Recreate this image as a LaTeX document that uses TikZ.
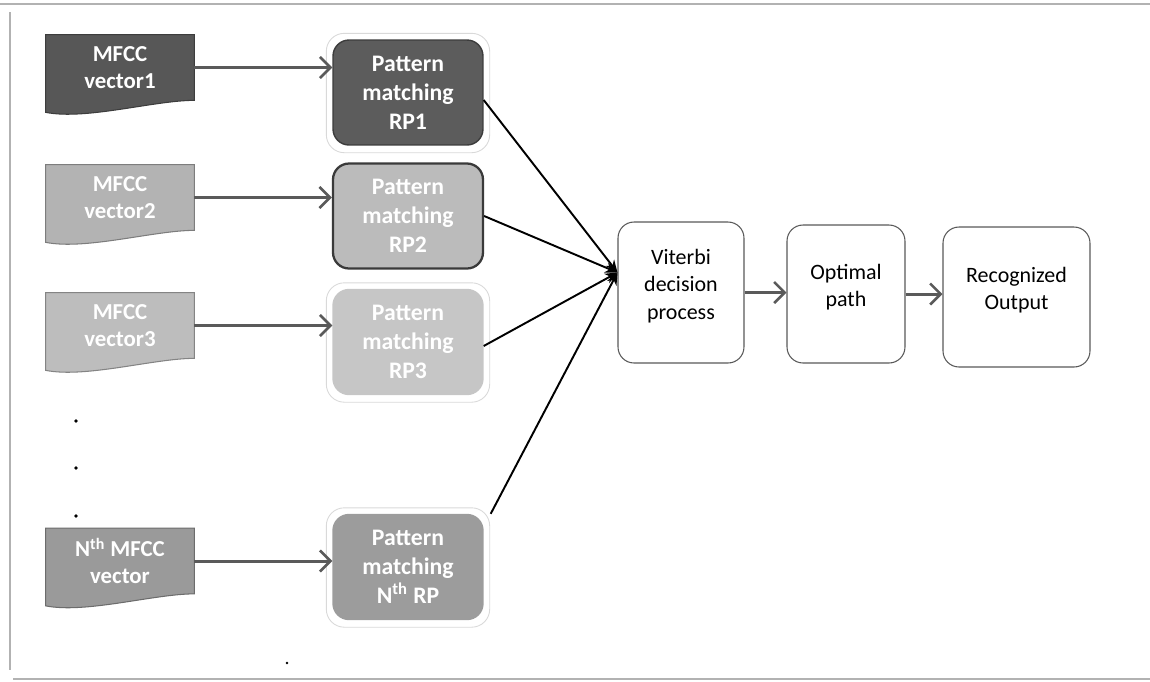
\documentclass[tikz,border=0pt]{standalone}
\usepackage{fontspec}
\setmainfont{Carlito}
\usetikzlibrary{arrows.meta,backgrounds}
\definecolor{mfone}{HTML}{575757}
\definecolor{pone}{HTML}{5C5C5C}
\definecolor{mftwo}{HTML}{B3B3B3}
\definecolor{ptwo}{HTML}{BBBBBB}
\definecolor{mfthree}{HTML}{BDBDBD}
\definecolor{pthree}{HTML}{C6C6C6}
\definecolor{mffour}{HTML}{9A9A9A}
\definecolor{pfour}{HTML}{9C9C9C}
\definecolor{edge}{HTML}{3A3A3A}
\definecolor{arrgray}{HTML}{5A5A5A}
\begin{document}
\begin{tikzpicture}[x=0.02cm,y=-0.02cm,
  docnode/.style={minimum width=2.96cm, minimum height=1.3cm, inner sep=0pt, align=center, text=white,
    font=\bfseries\fontsize{13}{15.5}\selectfont},
  docshape/.style={draw=#1!70!black, line width=0.6pt, fill=#1},
  pmbox/.style={rectangle, rounded corners=0.32cm, minimum width=3cm, minimum height=2.1cm, inner sep=0pt,
    align=center, text=white, fill=#1, draw=#1!65!black, line width=0.8pt,
    font=\bfseries\fontsize{13.5}{16.5}\selectfont},
  wbox/.style={rectangle, rounded corners=0.32cm, inner sep=0pt, align=center, fill=white,
    draw=gray!70!black, line width=0.6pt, font=\fontsize{12.5}{15.5}\selectfont},
  harrow/.style={draw=arrgray, line width=1.7pt, -{Straight Barb[length=6pt,width=12pt,line width=1.5pt]}},
  conv/.style={draw=black, line width=1.1pt, -{Stealth[length=7pt,width=6pt]}},
  halo/.style={draw=gray!30, line width=0.5pt, rounded corners=0.36cm},
  frame/.style={draw=gray!60, line width=0.6pt},
  dotmark/.style={fill=black, circle, inner sep=0pt, minimum size=2.2pt}
]
\useasboundingbox (0,0) rectangle (1150,681);

% frame
\draw[frame] (0,4) -- (1150,4);
\draw[frame] (10,12) -- (10,670);
\draw[frame] (13,679) -- (1150,679);

% MFCC document nodes
\node[docnode] (m1) at (120,67.5) {MFCC\\vector1};
\node[docnode] (m2) at (120,197.5) {MFCC\\vector2};
\node[docnode] (m3) at (120,325.5) {MFCC\\vector3};
\node[docnode] (m4) at (120,561) {N\textsuperscript{th} MFCC\\vector};

\begin{scope}[on background layer]
\foreach \n/\c in {m1/mfone, m2/mftwo, m3/mfthree, m4/mffour}{
  \path[docshape=\c] (\n.north west) -- (\n.north east) -- (\n.south east)
    .. controls +(-40,0) and +(40,8) .. ([yshift=-0.24cm]\n.south west) -- cycle;
}
\end{scope}

% Pattern matching boxes
\node[pmbox=pone] (p1) at (408,92.5) {Pattern\\matching\\RP1};
\node[pmbox=ptwo, draw=edge, line width=1.3pt] (p2) at (408,216) {Pattern\\matching\\RP2};
\node[pmbox=pthree, draw=pthree] (p3) at (408,342) {Pattern\\matching\\RP3};
\node[pmbox=pfour, draw=pfour] (p4) at (408,567) {Pattern\\matching\\N\textsuperscript{th} RP};

\begin{scope}[on background layer]
\foreach \n in {p1,p3,p4}{
  \draw[halo] ([shift={(-0.12cm,0.12cm)}]\n.north west) rectangle ([shift={(0.12cm,-0.14cm)}]\n.south east);
}
\end{scope}

% right-hand boxes
\node[wbox, minimum width=2.52cm, minimum height=2.82cm] (v) at (681,292.5) {Viterbi\\decision\\process\\[-6pt]\mbox{}};
\node[wbox, minimum width=2.36cm, minimum height=2.76cm] (o) at (846,294) {Optimal\\path\\[-6pt]\mbox{}};
\node[wbox, minimum width=2.94cm, minimum height=2.8cm] (r) at (1016.5,297) {Recognized\\Output\\[-6pt]\mbox{}};

% horizontal arrows
\foreach \a/\b in {m1/p1, m2/p2, m3/p3, m4/p4}{
  \draw[harrow] (\a.east) -- (\a.east -| \b.west);
}
\draw[harrow] (v.east) -- (v.east -| o.west);
\draw[harrow] (o.east) -- (o.east -| r.west);

% converging connectors
\coordinate (vin) at ([yshift=0.4cm]v.west);
\draw[conv] ([yshift=-0.15cm]p1.east) -- (vin);
\draw[conv] (p2.east) -- (vin);
\draw[conv] ([yshift=-0.08cm]p3.east) -- (vin);
\draw[conv] ([xshift=0.14cm]p4.north east) -- (vin);

% dots
\node[dotmark] (d1) at (76,421) {};
\node[dotmark] (d2) at (76,468) {};
\node[dotmark] (d3) at (76,516) {};
\node[dotmark, minimum size=1.6pt] (d4) at (287,663) {};
\end{tikzpicture}
\end{document}
